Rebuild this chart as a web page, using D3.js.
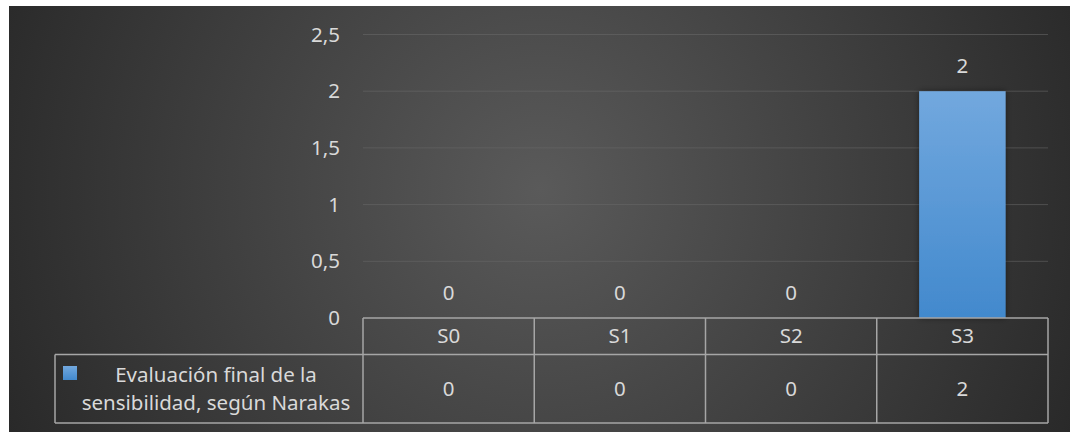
<!DOCTYPE html>
<html>
<head>
<meta charset="utf-8">
<script src="https://cdn.jsdelivr.net/npm/d3@7"></script>
<style>
  html, body { margin: 0; padding: 0; background: #ffffff; }
  svg { display: block; }
  text { font-family: "Noto Sans", "Open Sans", sans-serif; fill: #d9d9d9; }
</style>
</head>
<body>
<svg id="chart" width="1070" height="432"></svg>
<script>
// Data
const categories = ["S0", "S1", "S2", "S3"];
const seriesName = ["Evaluación final de la", "sensibilidad, según Narakas"];
const seriesValues = [0, 0, 0, 2];
const yTicks = [0, 0.5, 1, 1.5, 2, 2.5];

const W = 1070, H = 432;
const svg = d3.select("#chart");
const defs = svg.append("defs");

// Background radial gradient
const bg = defs.append("radialGradient").attr("id", "bg")
  .attr("gradientUnits", "userSpaceOnUse")
  .attr("cx", 540).attr("cy", 190).attr("r", 620);
bg.append("stop").attr("offset", "0%").attr("stop-color", "#5a5a5a");
bg.append("stop").attr("offset", "100%").attr("stop-color", "#262626");

const barGrad = defs.append("linearGradient").attr("id", "barGrad")
  .attr("x1", 0).attr("y1", 0).attr("x2", 0).attr("y2", 1);
barGrad.append("stop").attr("offset", "0%").attr("stop-color", "#72a8de");
barGrad.append("stop").attr("offset", "100%").attr("stop-color", "#4289cd");

const shadow = defs.append("filter").attr("id", "shadow")
  .attr("x", "-20%").attr("y", "-20%").attr("width", "140%").attr("height", "140%");
shadow.append("feDropShadow").attr("dx", 0).attr("dy", 0).attr("stdDeviation", 3)
  .attr("flood-color", "#000").attr("flood-opacity", 0.45);

svg.append("rect").attr("x", 9).attr("y", 6).attr("width", W - 9).attr("height", H - 6)
  .attr("fill", "url(#bg)");

// Layout
const plot = { left: 363, right: 1048, top: 34.5, bottom: 318 };
const row1 = 354.5, row2 = 423, legendLeft = 55;
const FS = 20.5;

const x = d3.scaleBand().domain(categories).range([plot.left, plot.right]);
const y = d3.scaleLinear().domain([0, 2.5]).range([plot.bottom, plot.top]);

// Gridlines
svg.append("g").selectAll("line").data(yTicks.filter(d => d > 0)).join("line")
  .attr("x1", plot.left).attr("x2", plot.right)
  .attr("y1", d => y(d)).attr("y2", d => y(d))
  .attr("stroke", "#6a6a6a").attr("stroke-opacity", 0.55).attr("stroke-width", 1);

// Y axis labels
const fmt = d => String(d).replace(".", ",");
svg.append("g").selectAll("text").data(yTicks).join("text")
  .attr("x", 340).attr("y", d => y(d)).attr("dy", "0.35em")
  .attr("text-anchor", "end").attr("font-size", FS).text(fmt);

// Bars
const barW = x.bandwidth() * 0.505;
svg.append("g").selectAll("rect").data(seriesValues).join("rect")
  .attr("x", (d, i) => x(categories[i]) + (x.bandwidth() - barW) / 2)
  .attr("y", d => y(d)).attr("width", barW)
  .attr("height", d => y(0) - y(d))
  .attr("fill", "url(#barGrad)").attr("filter", "url(#shadow)");

// Data labels
svg.append("g").selectAll("text").data(seriesValues).join("text")
  .attr("x", (d, i) => x(categories[i]) + x.bandwidth() / 2)
  .attr("y", d => y(d) - 25).attr("dy", "0.35em")
  .attr("text-anchor", "middle").attr("font-size", FS).text(fmt);

// Data table
const tbl = svg.append("g").attr("stroke", "#a6a6a6").attr("stroke-width", 1.5).attr("fill", "none");
tbl.append("line").attr("x1", plot.left).attr("x2", plot.right).attr("y1", plot.bottom).attr("y2", plot.bottom);
tbl.append("line").attr("x1", legendLeft).attr("x2", plot.right).attr("y1", row1).attr("y2", row1);
tbl.append("line").attr("x1", legendLeft).attr("x2", plot.right).attr("y1", row2).attr("y2", row2);
tbl.append("line").attr("x1", legendLeft).attr("x2", legendLeft).attr("y1", row1).attr("y2", row2);
tbl.selectAll("line.v").data(categories.concat(["end"])).join("line").attr("class", "v")
  .attr("x1", d => d === "end" ? plot.right : x(d))
  .attr("x2", d => d === "end" ? plot.right : x(d))
  .attr("y1", plot.bottom).attr("y2", row2);

// Category labels
svg.append("g").selectAll("text").data(categories).join("text")
  .attr("x", d => x(d) + x.bandwidth() / 2).attr("y", (plot.bottom + row1) / 2)
  .attr("dy", "0.35em").attr("text-anchor", "middle").attr("font-size", FS).text(d => d);

// Table values
svg.append("g").selectAll("text").data(seriesValues).join("text")
  .attr("x", (d, i) => x(categories[i]) + x.bandwidth() / 2).attr("y", (row1 + row2) / 2)
  .attr("dy", "0.35em").attr("text-anchor", "middle").attr("font-size", FS).text(fmt);

// Legend key and series name
svg.append("rect").attr("x", 63).attr("y", 366).attr("width", 14).attr("height", 14)
  .attr("fill", "url(#barGrad)");
svg.append("text").attr("x", 216).attr("y", 375).attr("dy", "0.35em")
  .attr("text-anchor", "middle").attr("font-size", FS).text(seriesName[0]);
svg.append("text").attr("x", 216).attr("y", 403).attr("dy", "0.35em")
  .attr("text-anchor", "middle").attr("font-size", FS).text(seriesName[1]);
</script>
</body>
</html>
